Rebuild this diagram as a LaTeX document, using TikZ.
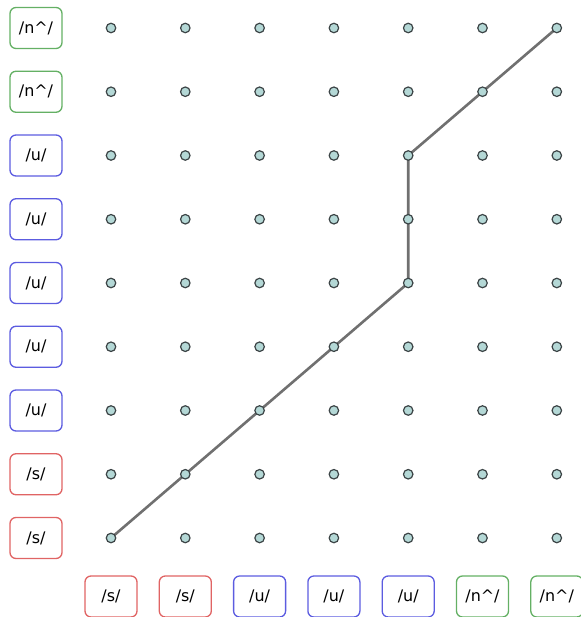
\documentclass[tikz,border=0pt]{standalone}
\usepackage{fontspec}
\setmainfont{DejaVu Sans}
\usepackage{xcolor}
\usepackage{tikz}
\usetikzlibrary{positioning}

\definecolor{dotfill}{HTML}{B4D8D6}
\definecolor{dotline}{HTML}{3C4446}
\definecolor{pathgray}{HTML}{707070}
\definecolor{phs}{HTML}{E06464}
\definecolor{phu}{HTML}{5C5CE0}
\definecolor{phn}{HTML}{64B064}
\newcommand{\ph}[1]{/#1/}

\begin{document}
\begin{tikzpicture}[x=1bp, y=1bp,
  dot/.style={circle, draw=dotline, fill=dotfill, line width=1.2bp, minimum size=9.5bp, inner sep=0},
  phone/.style={draw=#1, rounded corners=6bp, line width=1.3bp, minimum width=52bp, minimum height=41bp, inner sep=0, font=\fontsize{16}{18}\selectfont},
  warp/.style={pathgray, line width=2.6bp}]
\useasboundingbox (0,0) rectangle (581,617);

% grid points
\foreach \c in {0,...,6}
  \foreach \r in {0,...,8}
    \coordinate (p-\c-\r) at (111+74.3*\c, 79+63.75*\r);

% warping path
\draw[warp] (p-0-0) -- (p-1-1) -- (p-2-2) -- (p-3-3) -- (p-4-4)
  -- (p-4-5) -- (p-4-6) -- (p-5-7) -- (p-6-8);

\foreach \c in {0,...,6}
  \foreach \r in {0,...,8}
    \node[dot] (d-\c-\r) at (p-\c-\r) {};

% row labels
\foreach \lab/\col [count=\r from 0] in {s/phs, s/phs, u/phu, u/phu, u/phu, u/phu, u/phu, n\textasciicircum{}/phn, n\textasciicircum{}/phn} {
  \node[phone=\col, left=43bp of d-0-\r] (row-\r) {\ph{\lab}};
}

% column labels
\foreach \lab/\col [count=\c from 0] in {s/phs, s/phs, u/phu, u/phu, u/phu, n\textasciicircum{}/phn, n\textasciicircum{}/phn} {
  \node[phone=\col, below=32bp of d-\c-0] (col-\c) {\ph{\lab}};
}
\end{tikzpicture}
\end{document}
